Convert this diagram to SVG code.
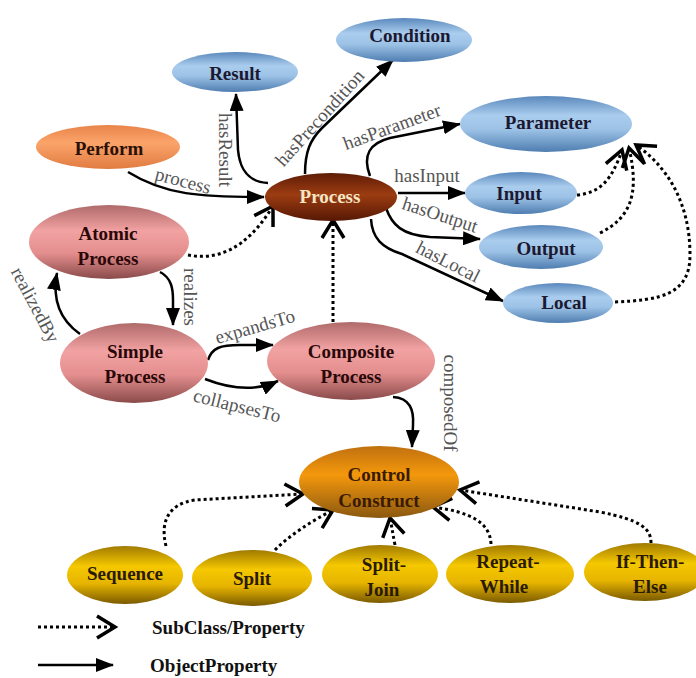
<svg xmlns="http://www.w3.org/2000/svg" width="696" height="678" viewBox="0 0 696 678">
<style>
.n{font-family:"Liberation Serif","Times New Roman",serif;font-weight:bold;font-size:19px;text-anchor:middle}
.dk{fill:#1c1830}
.l{font-family:"Liberation Serif","Times New Roman",serif;font-size:19px;fill:#555;text-anchor:middle}
.s{fill:none;stroke:#000;stroke-width:2.5;marker-end:url(#tri)}
.d{fill:none;stroke:#000;stroke-width:3;stroke-dasharray:3 3;marker-end:url(#chev)}
</style>
<defs>
<linearGradient id="gB" x1="0" y1="0" x2="0" y2="1"><stop offset="0" stop-color="#5a88bc"/><stop offset="0.35" stop-color="#aacdee"/><stop offset="0.6" stop-color="#9cc2e6"/><stop offset="1" stop-color="#4e7db0"/></linearGradient>
<linearGradient id="gO" x1="0" y1="0" x2="0" y2="1"><stop offset="0" stop-color="#e8844a"/><stop offset="0.4" stop-color="#fba46a"/><stop offset="1" stop-color="#e07c42"/></linearGradient>
<linearGradient id="gP" x1="0" y1="0" x2="0" y2="1"><stop offset="0" stop-color="#5e1c06"/><stop offset="0.45" stop-color="#9c3c12"/><stop offset="1" stop-color="#561804"/></linearGradient>
<linearGradient id="gK" x1="0" y1="0" x2="0" y2="1"><stop offset="0" stop-color="#b06a6a"/><stop offset="0.35" stop-color="#f2a2a2"/><stop offset="0.65" stop-color="#e48e8e"/><stop offset="1" stop-color="#8a4a4a"/></linearGradient>
<linearGradient id="gC" x1="0" y1="0" x2="0" y2="1"><stop offset="0" stop-color="#c07010"/><stop offset="0.4" stop-color="#f4980c"/><stop offset="1" stop-color="#8a5810"/></linearGradient>
<linearGradient id="gY" x1="0" y1="0" x2="0" y2="1"><stop offset="0" stop-color="#a07a00"/><stop offset="0.35" stop-color="#f5c800"/><stop offset="0.65" stop-color="#e6b400"/><stop offset="1" stop-color="#7a5a00"/></linearGradient>
<marker id="tri" markerUnits="userSpaceOnUse" viewBox="0 0 18 14" refX="17" refY="7" markerWidth="18" markerHeight="14" orient="auto"><path d="M0,0 L18,7 L0,14 z" fill="#000"/></marker>
<marker id="chev" markerUnits="userSpaceOnUse" viewBox="-3 -3 26 28" refX="18" refY="11" markerWidth="26" markerHeight="28" orient="auto"><path d="M0,0 L18,11 L0,22" fill="none" stroke="#000" stroke-width="3.5"/></marker>
</defs>

<g id="connectors">
<path class="s" d="M128,172 C165,195 200,197 264,197"/>
<path class="s" d="M268,183 C250,182 240,172 238,150 L236,94"/>
<path class="s" d="M305,174 C305,152 310,140 322,128 L393,60"/>
<path class="s" d="M370,176 C362,155 370,143 390,138 C420,132 440,128 460,124"/>
<path class="s" d="M398,193 L465,193"/>
<path class="s" d="M386,208 C392,225 402,235 430,237 L480,239"/>
<path class="s" d="M371,219 C372,238 382,248 402,254 L503,301"/>
<path class="s" d="M160,272 C172,278 173,290 173,300 L173,325"/>
<path class="s" d="M80,334 C60,320 52,300 57,273"/>
<path class="s" d="M208,360 C212,348 220,345 240,345 L273,345"/>
<path class="s" d="M205,379 C228,388 255,392 278,381"/>
<path class="s" d="M393,397 C410,398 414,410 413,425 L412,447"/>
<path class="d" d="M188,255 C215,260 245,252 273,206"/>
<path class="d" d="M333,322 L333,220"/>
<path class="d" d="M577,195 C600,193 612,180 622,150"/>
<path class="d" d="M600,233 C630,218 640,195 629,148"/>
<path class="d" d="M615,302 C660,300 690,295 690,255 C690,200 665,165 636,145"/>
<path class="d" d="M166,546 C160,522 168,504 195,500 L303,494"/>
<path class="d" d="M275,550 C290,535 310,522 333,510"/>
<path class="d" d="M395,545 C393,535 392,528 390,518"/>
<path class="d" d="M491,544 C490,522 470,512 433,507"/>
<path class="d" d="M651,543 C651,528 640,520 600,512 L460,490"/>
<path class="d" d="M38,627 L115,627"/>
<path class="s" d="M38,665 L113,665"/>
<text class="l" transform="translate(183,181) rotate(15)" y="6">process</text>
<text class="l" transform="translate(225,150) rotate(90)" y="6">hasResult</text>
<text class="l" transform="translate(320,118) rotate(-48)" y="6">hasPrecondition</text>
<text class="l" transform="translate(392,127) rotate(-20)" y="6">hasParameter</text>
<text class="l" x="427" y="182">hasInput</text>
<text class="l" transform="translate(440,215) rotate(18)" y="6">hasOutput</text>
<text class="l" transform="translate(448,262) rotate(27)" y="6">hasLocal</text>
<text class="l" transform="translate(190,297) rotate(90)" y="6">realizes</text>
<text class="l" transform="translate(35,305) rotate(62)" y="6">realizedBy</text>
<text class="l" transform="translate(255,327) rotate(-16)" y="6">expandsTo</text>
<text class="l" transform="translate(237,406) rotate(14)" y="6">collapsesTo</text>
<text class="l" transform="translate(450,403) rotate(90)" y="6">composedOf</text>
</g>

<g id="condition"><ellipse cx="404" cy="40" rx="68" ry="22" fill="url(#gB)"/><text class="n dk" x="410" y="42">Condition</text></g>
<g id="result"><ellipse cx="235" cy="72" rx="63" ry="20" fill="url(#gB)"/><text class="n dk" x="235" y="80">Result</text></g>
<g id="perform"><ellipse cx="108" cy="147" rx="72" ry="22" fill="url(#gO)"/><text class="n" fill="#2a1005" x="109" y="155">Perform</text></g>
<g id="process"><ellipse cx="331" cy="197" rx="66" ry="24" fill="url(#gP)"/><text class="n" fill="#f6e6c4" x="330" y="203">Process</text></g>
<g id="parameter"><ellipse cx="546" cy="124" rx="86" ry="28" fill="url(#gB)"/><text class="n dk" x="548" y="129">Parameter</text></g>
<g id="input"><ellipse cx="521" cy="193" rx="56" ry="21" fill="url(#gB)"/><text class="n dk" x="519" y="200">Input</text></g>
<g id="output"><ellipse cx="541" cy="247" rx="62" ry="22" fill="url(#gB)"/><text class="n dk" x="546" y="255">Output</text></g>
<g id="local"><ellipse cx="558" cy="303" rx="55" ry="20" fill="url(#gB)"/><text class="n dk" x="564" y="309">Local</text></g>
<g id="atomic"><ellipse cx="109" cy="242" rx="80" ry="37" fill="url(#gK)"/><text class="n" fill="#2a0808" x="108" y="240">Atomic</text><text class="n" fill="#2a0808" x="108" y="265">Process</text></g>
<g id="simple"><ellipse cx="134" cy="363" rx="74" ry="40" fill="url(#gK)"/><text class="n" fill="#2a0808" x="135" y="358">Simple</text><text class="n" fill="#2a0808" x="135" y="383">Process</text></g>
<g id="composite"><ellipse cx="351" cy="361" rx="84" ry="39" fill="url(#gK)"/><text class="n" fill="#2a0808" x="351" y="358">Composite</text><text class="n" fill="#2a0808" x="351" y="383">Process</text></g>
<g id="control"><ellipse cx="379" cy="482" rx="80" ry="36" fill="url(#gC)"/><text class="n" fill="#3a1a00" x="379" y="481">Control</text><text class="n" fill="#3a1a00" x="379" y="507">Construct</text></g>
<g id="sequence"><ellipse cx="125" cy="575" rx="58" ry="29" fill="url(#gY)"/><text class="n" fill="#2a1a00" x="125" y="580">Sequence</text></g>
<g id="split"><ellipse cx="252" cy="578" rx="60" ry="28" fill="url(#gY)"/><text class="n" fill="#2a1a00" x="252" y="585">Split</text></g>
<g id="splitjoin"><ellipse cx="380" cy="574" rx="58" ry="29" fill="url(#gY)"/><text class="n" fill="#2a1a00" x="384" y="571">Split-</text><text class="n" fill="#2a1a00" x="382" y="596">Join</text></g>
<g id="repeatwhile"><ellipse cx="510" cy="574" rx="64" ry="29" fill="url(#gY)"/><text class="n" fill="#2a1a00" x="508" y="568">Repeat-</text><text class="n" fill="#2a1a00" x="504" y="593">While</text></g>
<g id="ifthenelse"><ellipse cx="645" cy="572" rx="61" ry="29" fill="url(#gY)"/><text class="n" fill="#2a1a00" x="650" y="568">If-Then-</text><text class="n" fill="#2a1a00" x="650" y="593">Else</text></g>

<g id="legend">
<text class="n" fill="#111" x="152" y="634" style="text-anchor:start">SubClass/Property</text>
<text class="n" fill="#111" x="150" y="672" style="text-anchor:start">ObjectProperty</text>
</g>
</svg>
